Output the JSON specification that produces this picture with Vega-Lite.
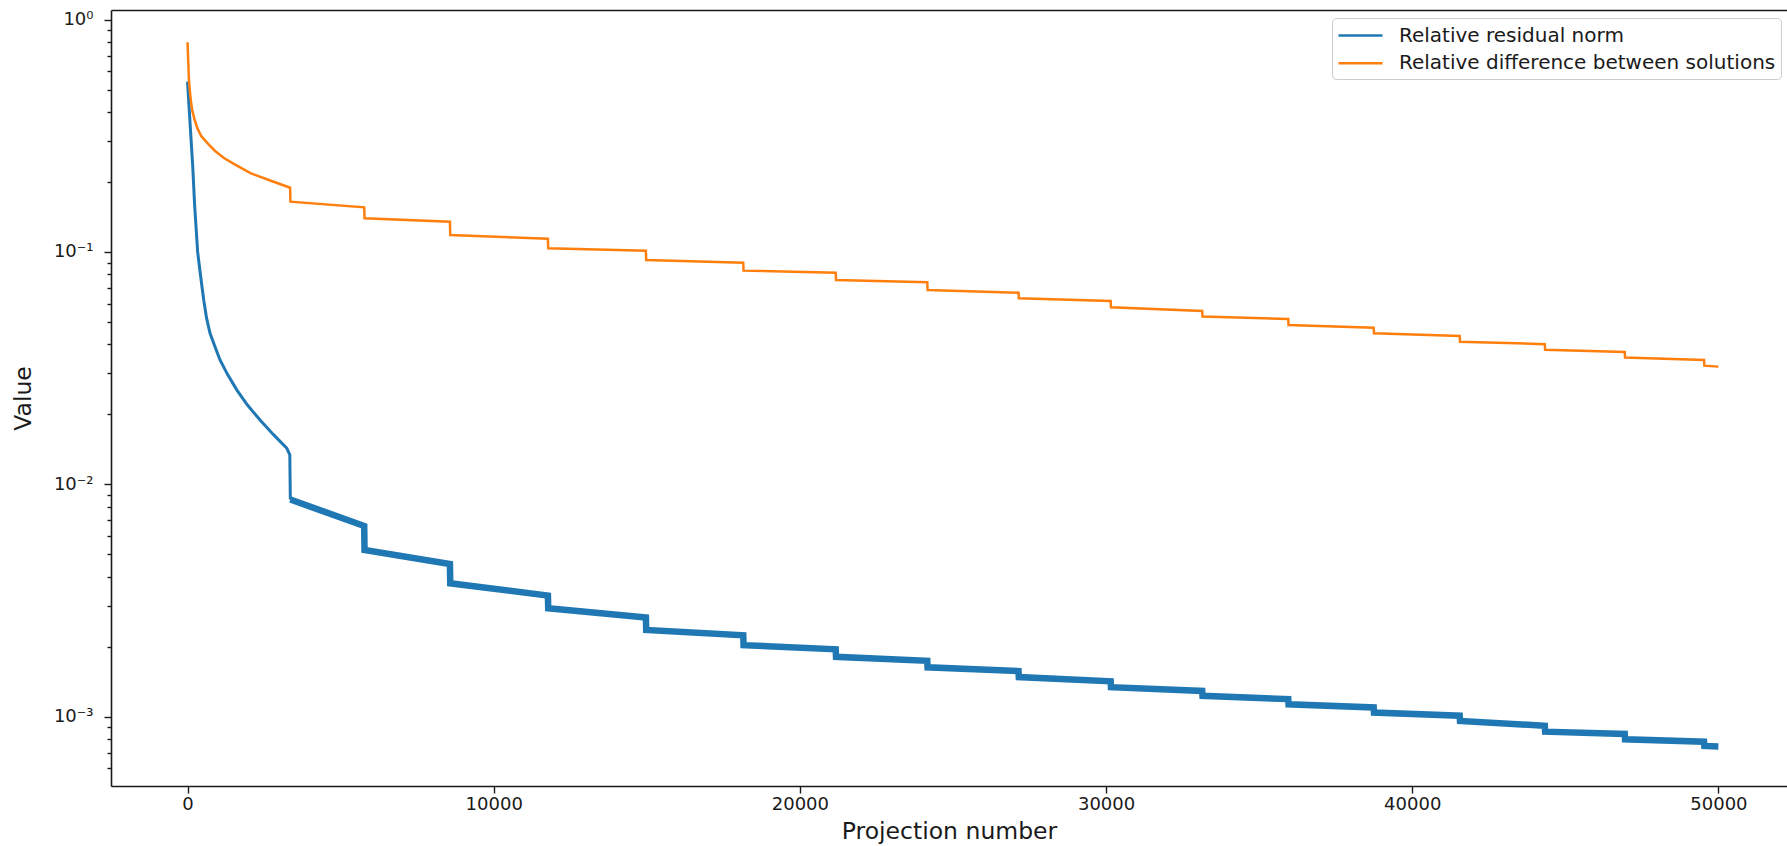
{
  "$schema": "https://vega.github.io/schema/vega-lite/v6.json",
  "width": 1676,
  "height": 776,
  "autosize": {"type": "none"},
  "padding": {"left": 111, "top": 10, "right": 0, "bottom": 60},
  "background": "white",
  "config": {
    "font": "DejaVu Sans",
    "view": {"stroke": null},
    "axis": {
      "grid": false,
      "domainColor": "#1a1a1a",
      "domainWidth": 1.6,
      "tickColor": "#1a1a1a",
      "tickWidth": 1.4,
      "labelColor": "#1a1a1a",
      "titleColor": "#1a1a1a",
      "labelFontSize": 18,
      "titleFontSize": 23.5,
      "titleFontWeight": "normal",
      "labelFlush": false
    },
    "legend": {
      "orient": "none",
      "legendX": 1221,
      "legendY": 8,
      "labelFontSize": 20,
      "labelLimit": 0,
      "labelColor": "#1a1a1a",
      "symbolType": "M-2,0H2",
      "symbolSize": 484,
      "symbolStrokeWidth": 2.6,
      "symbolOffset": 11,
      "strokeColor": "#cccccc",
      "fillColor": "rgba(255,255,255,0.8)",
      "padding": 5,
      "cornerRadius": 4,
      "rowPadding": 4.7,
      "labelOffset": 26
    }
  },
  "datasets": {
    "residual": [
      {"n": 0, "v": 0.541}, {"n": 60, "v": 0.40}, {"n": 170, "v": 0.233}, {"n": 230, "v": 0.16},
      {"n": 330, "v": 0.10}, {"n": 420, "v": 0.08}, {"n": 530, "v": 0.062}, {"n": 620, "v": 0.052},
      {"n": 735, "v": 0.0447}, {"n": 900, "v": 0.039}, {"n": 1061, "v": 0.0343}, {"n": 1300, "v": 0.0298},
      {"n": 1607, "v": 0.0255}, {"n": 1950, "v": 0.022}, {"n": 2368, "v": 0.0189}, {"n": 2800, "v": 0.0164},
      {"n": 3240, "v": 0.0143}, {"n": 3340, "v": 0.0134},
      {"n": 3357, "v": 0.0086}, {"n": 5770, "v": 0.00662},
      {"n": 5780, "v": 0.00522}, {"n": 8570, "v": 0.00454},
      {"n": 8580, "v": 0.00375}, {"n": 11770, "v": 0.00332},
      {"n": 11780, "v": 0.00293}, {"n": 14970, "v": 0.00267},
      {"n": 14980, "v": 0.00236}, {"n": 18150, "v": 0.00224},
      {"n": 18160, "v": 0.00203}, {"n": 21170, "v": 0.00195},
      {"n": 21180, "v": 0.00181}, {"n": 24160, "v": 0.00174},
      {"n": 24170, "v": 0.00163}, {"n": 27140, "v": 0.00157},
      {"n": 27150, "v": 0.00148}, {"n": 30150, "v": 0.00142},
      {"n": 30160, "v": 0.00134}, {"n": 33140, "v": 0.00129},
      {"n": 33150, "v": 0.00123}, {"n": 35950, "v": 0.00119},
      {"n": 35960, "v": 0.00113}, {"n": 38740, "v": 0.001096},
      {"n": 38750, "v": 0.001042}, {"n": 41550, "v": 0.001009},
      {"n": 41560, "v": 0.000959}, {"n": 44330, "v": 0.000914},
      {"n": 44340, "v": 0.000862}, {"n": 46940, "v": 0.000842},
      {"n": 46950, "v": 0.000799}, {"n": 49530, "v": 0.00078},
      {"n": 49540, "v": 0.000748}, {"n": 49999, "v": 0.000744}
    ],
    "difference": [
      {"n": 0, "v": 0.799}, {"n": 45, "v": 0.55}, {"n": 90, "v": 0.47}, {"n": 150, "v": 0.408},
      {"n": 220, "v": 0.375}, {"n": 320, "v": 0.341}, {"n": 450, "v": 0.315}, {"n": 650, "v": 0.294},
      {"n": 900, "v": 0.272}, {"n": 1200, "v": 0.253}, {"n": 1600, "v": 0.236}, {"n": 2070, "v": 0.218},
      {"n": 2700, "v": 0.203}, {"n": 3350, "v": 0.189},
      {"n": 3360, "v": 0.1646}, {"n": 5770, "v": 0.1557},
      {"n": 5780, "v": 0.1396}, {"n": 8570, "v": 0.135},
      {"n": 8580, "v": 0.1184}, {"n": 11770, "v": 0.1141},
      {"n": 11780, "v": 0.1037}, {"n": 14970, "v": 0.1013},
      {"n": 14980, "v": 0.0924}, {"n": 18150, "v": 0.0899},
      {"n": 18160, "v": 0.0831}, {"n": 21170, "v": 0.0814},
      {"n": 21180, "v": 0.0758}, {"n": 24160, "v": 0.0741},
      {"n": 24170, "v": 0.0686}, {"n": 27140, "v": 0.0668},
      {"n": 27150, "v": 0.0632}, {"n": 30150, "v": 0.0615},
      {"n": 30160, "v": 0.0578}, {"n": 33140, "v": 0.0557},
      {"n": 33150, "v": 0.0527}, {"n": 35950, "v": 0.0515},
      {"n": 35960, "v": 0.0485}, {"n": 38740, "v": 0.0472},
      {"n": 38750, "v": 0.0447}, {"n": 41550, "v": 0.0435},
      {"n": 41560, "v": 0.0411}, {"n": 44330, "v": 0.0401},
      {"n": 44340, "v": 0.0379}, {"n": 46940, "v": 0.0371},
      {"n": 46950, "v": 0.0351}, {"n": 49530, "v": 0.0343},
      {"n": 49540, "v": 0.0324}, {"n": 49999, "v": 0.0321}
    ]
  },
  "encoding": {
    "y": {
      "field": "v",
      "type": "quantitative",
      "scale": {"type": "log", "domain": [0.000503, 1.1], "nice": false},
      "axis": {
        "title": "Value",
        "titlePadding": 18,
        "values": [0.0006, 0.0007, 0.0008, 0.0009, 0.001, 0.002, 0.003, 0.004, 0.005, 0.006, 0.007, 0.008, 0.009, 0.01, 0.02, 0.03, 0.04, 0.05, 0.06, 0.07, 0.08, 0.09, 0.1, 0.2, 0.3, 0.4, 0.5, 0.6, 0.7, 0.8, 0.9, 1],
        "labelExpr": "abs(datum.value - 1) < 1e-9 ? '10⁰' : abs(datum.value - 0.1) < 1e-9 ? '10⁻¹' : abs(datum.value - 0.01) < 1e-9 ? '10⁻²' : abs(datum.value - 0.001) < 1e-9 ? '10⁻³' : ''",
        "labelOverlap": false,
        "labelPadding": 11,
        "tickSize": {"condition": {"test": "abs(log(datum.value)/LN10 - round(log(datum.value)/LN10)) < 0.001", "value": 7}, "value": 4}
      }
    },
    "color": {
      "field": "s",
      "type": "nominal",
      "title": null,
      "scale": {"domain": ["Relative residual norm", "Relative difference between solutions"], "range": ["#1f77b4", "#ff7f0e"]}
    }
  },
  "layer": [
    {
      "data": {"name": "residual"},
      "transform": [{"filter": "datum.n <= 3357"}, {"calculate": "'Relative residual norm'", "as": "s"}],
      "mark": {"type": "line", "strokeWidth": 3},
      "encoding": {
        "x": {
          "field": "n", "type": "quantitative",
          "scale": {"domain": [-2500, 52240], "nice": false, "zero": false},
          "axis": {"orient": "top", "labels": false, "ticks": false, "title": null, "domain": true}
        }
      }
    },
    {
      "data": {"name": "residual"},
      "transform": [{"filter": "datum.n >= 3357"}, {"calculate": "'Relative residual norm'", "as": "s"}],
      "mark": {"type": "line", "strokeWidth": 6.5},
      "encoding": {
        "x": {"field": "n", "type": "quantitative", "axis": null}
      }
    },
    {
      "data": {"name": "difference"},
      "transform": [{"calculate": "'Relative difference between solutions'", "as": "s"}],
      "mark": {"type": "line", "strokeWidth": 2.5},
      "encoding": {
        "x": {
          "field": "n", "type": "quantitative",
          "axis": {
            "orient": "bottom",
            "title": "Projection number",
            "values": [0, 10000, 20000, 30000, 40000, 50000],
            "format": "d",
            "tickSize": 7,
            "labelPadding": 2,
            "titlePadding": 6
          }
        }
      }
    }
  ],
  "resolve": {"axis": {"x": "independent"}}
}
